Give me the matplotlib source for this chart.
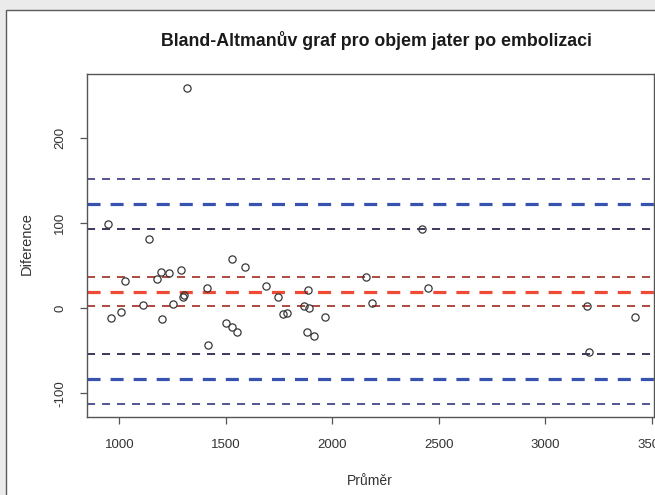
import matplotlib
matplotlib.use("Agg")
import matplotlib.pyplot as plt
from matplotlib.patches import Rectangle

plt.rcParams['font.family'] = ['Liberation Sans', 'DejaVu Sans']
plt.rcParams['lines.scale_dashes'] = False

# Mean of the two volume measurements (Průměr) and their difference (Diference)
prumer = [948, 961, 1007, 1028, 1141, 1110, 1177, 1194, 1200, 1235,
          1254, 1290, 1300, 1302, 1316, 1410, 1418, 1531, 1500, 1528,
          1551, 1590, 1689, 1746, 1767, 1786, 1867, 1887, 1889, 1880,
          1915, 1966, 2158, 2185, 2420, 2451, 3194, 3204, 3421]
diference = [99.2, -11.8, -4.0, 32.5, 81.5, 3.5, 34.5, 43.0, -12.6, 42.0,
             4.7, 45.0, 13.7, 15.5, 259.5, 23.5, -43.2, 58.0, -17.7, -21.6,
             -27.5, 49.0, 26.2, 13.7, -7.0, -5.9, 2.7, 21.5, 0.0, -27.5,
             -32.6, -9.8, 37.2, 5.9, 93.3, 23.5, 3.0, -51.0, -9.9]

# Bias, limits of agreement and their confidence bounds
bias = 19.5
bias_ci = [2.7, 36.5]
loa = [-83.5, 122.5]
loa_upper_ci = [92.9, 152.0]
loa_lower_ci = [-112.6, -53.8]

x_ticks = [1000, 1500, 2000, 2500, 3000, 3500]
y_ticks = [-100, 0, 100, 200]

W, H = 655, 495
fig = plt.figure(figsize=(W / 100, H / 100), dpi=100, facecolor='#ebebeb')

# white framed panel behind the plot
fig.patches.append(Rectangle((6 / W, -0.1), 1.2, 1 - 10 / H + 0.1,
                             transform=fig.transFigure, facecolor='white',
                             edgecolor='#5a5a5a', linewidth=1.0, zorder=-1))

ax = fig.add_axes([87 / W, 1 - 417 / H, (654 - 87) / W, (417 - 74) / H])
ax.set_zorder(2)
ax.set_facecolor('white')

thin_dash = (0, (5.8, 5.0))
thick_dash = (0, (9.4, 7.2))

# confidence bounds of the limits of agreement
for v in [loa_upper_ci[1], loa_lower_ci[0]]:
    ax.axhline(v, color='#46468c', lw=1.3, ls=thin_dash, zorder=1)
for v in [loa_upper_ci[0], loa_lower_ci[1]]:
    ax.axhline(v, color='#2a2a55', lw=1.3, ls=thin_dash, zorder=1)
# limits of agreement
for v in loa:
    ax.axhline(v, color='#3852b0', lw=2.3, ls=thick_dash, zorder=1)
# bias and its confidence bounds
for v in bias_ci:
    ax.axhline(v, color='#a83a32', lw=1.3, ls=thin_dash, zorder=1)
ax.axhline(bias, color='#ee4a36', lw=2.3, ls=thick_dash, zorder=1)

ax.plot(prumer, diference, 'o', mfc='none', mec='#383838', mew=0.9, ms=5.2,
        zorder=3)

ax.set_xlim(848, 3510)
ax.set_ylim(-128, 275.6)
ax.set_xticks(x_ticks)
ax.set_yticks(y_ticks)
ax.set_xticklabels([str(t) for t in x_ticks])
ax.set_yticklabels([str(t) for t in y_ticks], rotation=90, va='center')

for s in ax.spines.values():
    s.set_color('#555555')
    s.set_linewidth(1.0)
ax.tick_params(direction='out', length=5, width=0.9, color='#555555',
               labelsize=9.5, labelcolor='#333333')
ax.tick_params(axis='x', pad=11)
ax.tick_params(axis='y', pad=10)

fig.text(376 / W, 1 - 40 / H, 'Bland-Altmanův graf pro objem jater po embolizaci',
         ha='center', va='center', fontsize=12.8, fontweight='bold', color='#1a1a1a')
fig.text(370 / W, 1 - 481 / H, 'Průměr', ha='center', va='center',
         fontsize=10, color='#333333')
fig.text(27 / W, 1 - 244 / H, 'Diference', ha='center', va='center',
         rotation=90, fontsize=10.5, color='#333333')

fig.savefig('out.png', dpi=100, facecolor=fig.get_facecolor())
